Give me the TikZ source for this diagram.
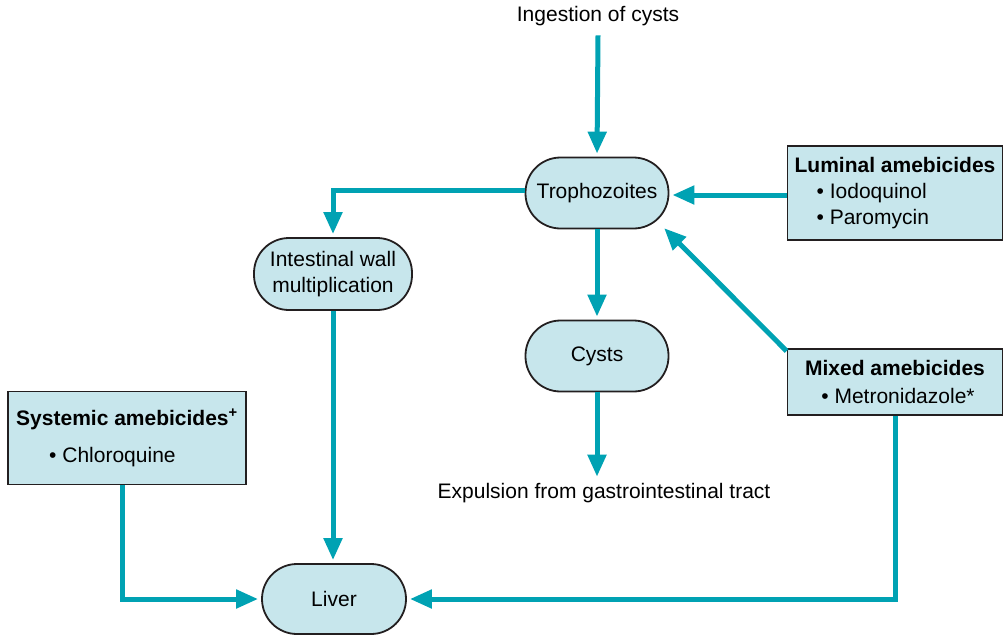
\documentclass[tikz,border=0pt]{standalone}
\usepackage{fontspec}
\setmainfont{Liberation Sans}
\usetikzlibrary{arrows.meta}
\definecolor{teal1}{HTML}{00A2B3}
\definecolor{fillb}{HTML}{C7E6EC}
\definecolor{edge}{HTML}{231F20}
\tikzset{
  stage/.style={draw=edge, line width=1.8pt, fill=fillb, rounded corners=35pt, minimum width=143pt, minimum height=71pt, align=center, font=\fontsize{21}{26}\selectfont},
  drugbox/.style={draw=edge, line width=1.8pt, fill=fillb, inner sep=0pt, font=\fontsize{21}{26}\selectfont},
  plain/.style={font=\fontsize{21}{25}\selectfont},
  flow/.style={draw=teal1, line width=5pt, -{Triangle[length=22pt,width=18pt]}, shorten >=3pt},
}
\begin{document}
\begin{tikzpicture}[x=1pt,y=-1pt]
\useasboundingbox (0,0) rectangle (1003,635);
\node[plain] (ing) at (598,16) {Ingestion of cysts};
\node[stage] (tro) at (597,193) {Trophozoites};
\node[stage, minimum width=158pt, minimum height=72pt] (iwm) at (333,274) {Intestinal wall\\multiplication};
\node[stage] (cys) at (597,356) {Cysts};
\node[plain] (exp) at (604,493) {Expulsion from gastrointestinal tract};
\node[stage, minimum width=144pt, minimum height=70pt] (liv) at (334,599) {Liver};
\node[drugbox, minimum width=215pt, minimum height=94pt, align=left] (lum) at (895,193) {\textbf{Luminal amebicides}\\\hspace{22pt}• Iodoquinol\\\hspace{22pt}• Paromycin};
\node[drugbox, minimum width=215pt, minimum height=66pt, align=center, font=\fontsize{21}{28}\selectfont] (mix) at (895,382) {\textbf{Mixed amebicides}\\\hspace{6pt}• Metronidazole*};
\node[drugbox, minimum width=238pt, minimum height=93pt, align=left, font=\fontsize{21}{37}\selectfont] (sys) at (127,438) {\textbf{Systemic amebicides\textsuperscript{+}}\\\hspace{33pt}• Chloroquine};
\coordinate (c1) at (333,190);
\coordinate (c2) at (122,599);
\coordinate (c3) at (895,599);
\draw[flow] (ing.south) ++(0,6) -- (tro.north);
\draw[flow] (lum.west |- 0,195) -- (tro.east |- 0,195);
\draw[flow, shorten <=0pt] (tro.west |- c1) -- (c1) -- (iwm.north);
\draw[flow] (tro.south) -- (cys.north);
\draw[flow] (mix.north west) ++(0,3) -- (662,226);
\draw[flow] (cys.south) -- (cys.south |- exp.north);
\draw[flow] (iwm.south) -- (iwm.south |- liv.north);
\draw[flow] (sys.south -| c2) -- (c2) -- (liv.west);
\draw[flow] (mix.south) -- (c3) -- (liv.east);
\end{tikzpicture}
\end{document}
